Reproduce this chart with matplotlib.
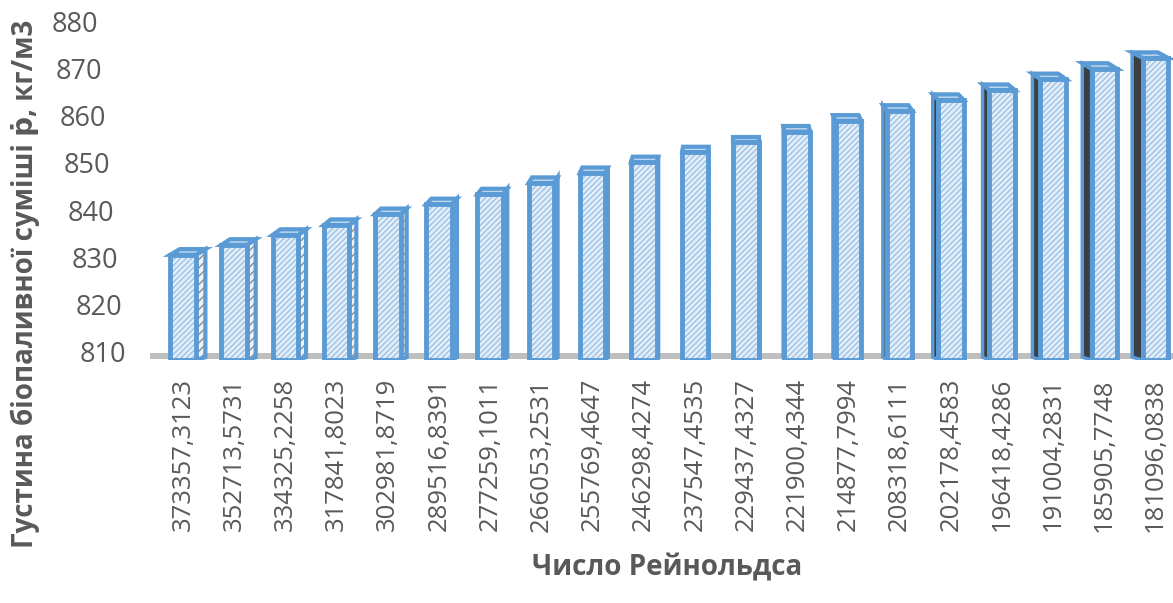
import matplotlib.pyplot as plt
from matplotlib.patches import Polygon
import numpy as np

plt.rcParams['font.family'] = ['Open Sans', 'DejaVu Sans']
plt.rcParams['hatch.linewidth'] = 1.0

# Reynolds number categories and blend density values
reynolds = ["373357,3123", "352713,5731", "334325,2258", "317841,8023",
            "302981,8719", "289516,8391", "277259,1011", "266053,2531",
            "255769,4647", "246298,4274", "237547,4535", "229437,4327",
            "221900,4344", "214877,7994", "208318,6111", "202178,4583",
            "196418,4286", "191004,2831", "185905,7748", "181096,0838"]
density = [831.9, 834.0, 836.1, 838.2, 840.5, 842.6, 844.7, 847.1, 849.2, 851.5,
           853.6, 855.7, 858.0, 860.3, 862.4, 864.7, 866.8, 869.1, 871.3, 873.6]
yticks = [810, 820, 830, 840, 850, 860, 870, 880]

TXT = '#595959'
EDGE = '#5B9BD5'
FACE = '#E4EEF8'
HATCH = '#9DC3E6'

fig = plt.figure(figsize=(11.73, 6.03), dpi=100)
H = 603
ax = fig.add_axes([150 / 1173, 1 - 360 / H, 1 - 150 / 1173, (360 - 25) / H])

x = np.arange(len(density))
base = 809.0
w = 0.5
top_h = 1.2   # height of the top face, in data units
vp = 11.0     # column where the side faces vanish

# floor
ax.axhspan(809.3, 810.4, color='#BFBFBF', zorder=0, lw=0)

for i, v in zip(x, density):
    sx = (vp - i) * (0.017 if i < vp else 0.026)
    front_top = v - top_h / 2
    left, right = i - w / 2, i + w / 2
    # side face
    if sx > 0:
        side = [(right, base), (right + sx, base + 0.6), (right + sx, front_top + top_h),
                (right, front_top)]
        ax.add_patch(Polygon(side, closed=True, facecolor='#F2F2F2', edgecolor='#8C8C8C',
                             hatch='////', lw=0, zorder=2))
        ax.add_patch(Polygon(side, closed=True, fill=False, edgecolor=EDGE, lw=3, zorder=3))
    elif sx < 0:
        side = [(left, base), (left + sx, base + 0.6), (left + sx, front_top + top_h),
                (left, front_top)]
        ax.add_patch(Polygon(side, closed=True, facecolor='#3A3F44', edgecolor=EDGE,
                             lw=2.5, zorder=2))
    # top face
    top = [(left, front_top), (right, front_top), (right + sx, front_top + top_h),
           (left + sx, front_top + top_h)]
    ax.add_patch(Polygon(top, closed=True, facecolor='#BDD7EE', edgecolor=EDGE, lw=3,
                         zorder=4))

# front faces: hatched fill, then the blue outline on top
ax.bar(x, np.array(density) - top_h / 2 - base, bottom=base, width=w, color=FACE,
       edgecolor=HATCH, hatch='//////', lw=0, zorder=5)
ax.bar(x, np.array(density) - top_h / 2 - base, bottom=base, width=w, fill=False,
       edgecolor=EDGE, lw=3.5, zorder=6)

ax.set_xlim(-0.645, 19.34)
ax.set_ylim(809, 880)
ax.set_yticks(yticks)
ax.set_yticklabels([])
ax.set_xticks(x)
ax.set_xticklabels(reynolds, rotation=90, fontsize=18.5, color=TXT, va='top')
ax.tick_params(axis='x', length=0, pad=13)
ax.tick_params(axis='y', length=0)
for s in ax.spines.values():
    s.set_visible(False)

# y tick labels set slightly further right as they go down (perspective)
for t in yticks:
    py = 355 - (t - 810) * (330 / 70)
    px = 98 + (880 - t) / 70 * 28
    fig.text(px / 1173, 1 - py / H, str(t), fontsize=19.5, color=TXT,
             ha='right', va='center')

fig.text(25 / 1173, 1 - 284 / H, "Густина біопаливної суміші ṗ, кг/м3", rotation=90,
         fontsize=20, fontweight='bold', color=TXT, ha='center', va='center')
fig.text(667 / 1173, 1 - 568 / H, "Число Рейнольдса", fontsize=20, fontweight='bold',
         color=TXT, ha='center', va='center')

fig.savefig('out.png', dpi=100)
